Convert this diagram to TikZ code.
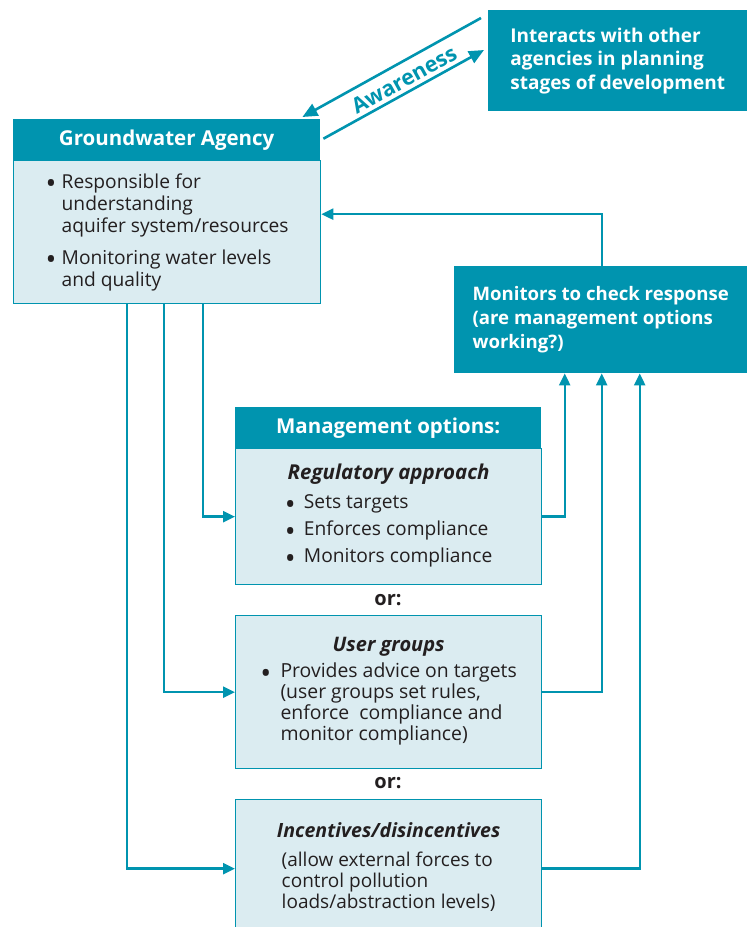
\documentclass[tikz,border=0pt]{standalone}
\usepackage{fontspec}
\setmainfont{Open Sans}
\usetikzlibrary{arrows.meta,positioning}
\definecolor{agencyteal}{RGB}{0,148,175}
\definecolor{paleblue}{RGB}{219,236,241}
\definecolor{inkgray}{RGB}{35,31,32}
\newcommand{\bitem}[1][16pt]{\makebox[#1][l]{\raisebox{-0.55ex}{\scalebox{1.5}{\textbullet}}}}
\newcommand{\bpad}[1][16pt]{\hspace*{#1}}

\begin{document}
\begin{tikzpicture}[
        x=1pt, y=-1pt,
        tealbox/.style={fill=agencyteal, text=white, font=\fontsize{20.5}{24}\selectfont\bfseries, inner sep=0pt, anchor=north west},
        palebox/.style={draw=agencyteal, line width=1.3pt, fill=paleblue, text=inkgray, font=\fontsize{19.2}{22}\selectfont, inner sep=0pt, anchor=north west},
        ortext/.style={font=\fontsize{20}{22}\selectfont\bfseries, text=inkgray},
        arrow/.style={-{Triangle[length=12pt, width=11pt]}, line width=2.4pt, draw=agencyteal},
        bigarrow/.style={-{Triangle[length=15pt, width=13pt]}, line width=2.6pt, draw=agencyteal}
    ]
        \clip (0,0) rectangle (751,927);

        % Groundwater Agency
        \node[tealbox, minimum width=307pt, minimum height=41pt] (gahead) at (13,119) {Groundwater Agency};
        \node[palebox, minimum width=307pt, minimum height=143pt, align=left] (gabody) at (13,160)
            {\bitem Responsible for\\ \bpad understanding\\ \bpad aquifer system/resources\\[10pt]
             \bitem Monitoring water levels\\ \bpad and quality};

        % Other agencies
        \node[tealbox, minimum width=259pt, minimum height=101pt, align=left, font=\fontsize{19}{23.5}\selectfont\bfseries] (interacts) at (488,10)
            {Interacts with other\\ agencies in planning\\ stages of development};

        % Awareness
        \draw[bigarrow] ([shift={(-7,8)}]interacts.north west) -- ([shift={(-18,-2)}]gahead.north east);
        \draw[bigarrow] ([shift={(3,-1)}]gahead.east) -- ([shift={(-4,40)}]interacts.north west);
        \node[text=agencyteal, font=\fontsize{21.5}{24}\selectfont\bfseries, rotate=29] (awareness) at (404,80) {Awareness};

        % Monitoring
        \node[tealbox, minimum width=293pt, minimum height=107pt, align=left, font=\fontsize{18.6}{24}\selectfont\bfseries] (monitors) at (454,266)
            {Monitors to check response\\ (are management options\\ working?)};

        % Management options
        \node[tealbox, minimum width=306pt, minimum height=41pt] (mghead) at (235,407) {Management options:};
        \node[palebox, minimum width=306pt, minimum height=136pt, align=center] (regbody) at (235,448)
            {{\fontsize{20.5}{22}\selectfont\bfseries\itshape Regulatory approach}\\[7pt]
             \begin{tabular}[t]{@{}l@{}}
                \bitem[14pt] Sets targets\\[5pt]
                \bitem[14pt] Enforces compliance\\[5pt]
                \bitem[14pt] Monitors compliance
             \end{tabular}};
        \node[ortext] (or1) at (388,600) {or:};

        \node[palebox, minimum width=306pt, minimum height=153pt, align=center, font=\fontsize{19.4}{21}\selectfont] (userbody) at (235,615)
            {{\fontsize{20}{22}\selectfont\bfseries\itshape User groups}\\[5pt]
             \begin{tabular}[t]{@{}l@{}}
                \bitem[15pt] Provides advice on targets\\
                \bpad[15pt] (user groups set rules,\\
                \bpad[15pt] enforce\ \ compliance and\\
                \bpad[15pt] monitor compliance)
             \end{tabular}};
        \node[ortext] (or2) at (388,783) {or:};

        \node[palebox, minimum width=306pt, minimum height=138pt, align=center, font=\fontsize{19}{21}\selectfont] (incbody) at (235,799)
            {{\fontsize{19.6}{22}\selectfont\bfseries\itshape Incentives/disincentives}\\[8pt]
             \begin{tabular}[t]{@{}l@{}}
                (allow external forces to\\
                control pollution\\
                loads/abstraction levels)
             \end{tabular}};

        % Arrows
        \foreach \dx/\opt in {36/regbody, -3/userbody, -40/incbody} {
            \draw[arrow] ([xshift=\dx pt]gabody.south) |- (\opt.west);
        }
        \foreach \dx/\opt in {-36/regbody, 1/userbody, 39/incbody} {
            \draw[arrow] (\opt.east) -| ([xshift=\dx pt]monitors.south);
        }
        \draw[arrow] ([xshift=1pt]monitors.north) |- ([yshift=18pt]gabody.east);

    \end{tikzpicture}
\end{document}
